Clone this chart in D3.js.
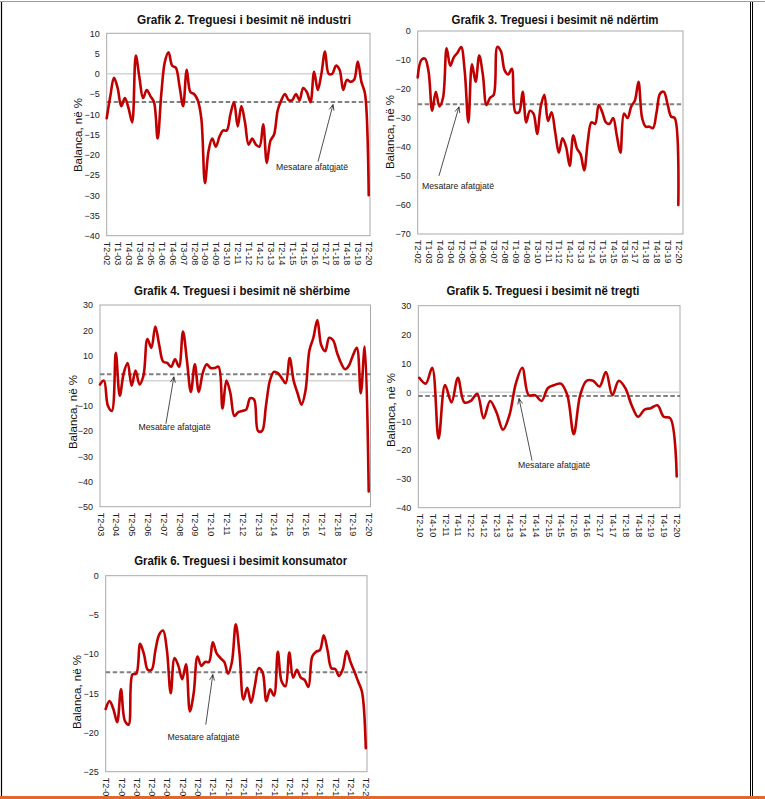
<!DOCTYPE html>
<html><head><meta charset="utf-8">
<script src="https://cdn.jsdelivr.net/npm/d3@7"></script>
<style>body{margin:0;background:#fff}svg{display:block}text{font-family:"Liberation Sans",Arial,sans-serif}</style>
</head><body><svg id="c" width="765" height="799"></svg>
<script>
// ---- categories (quarters) ----
function quarters(q, y, n){const out=[];for(let i=0;i<n;i++){out.push("T"+q+"-"+String(y).padStart(2,"0"));q++;if(q>4){q=1;y++;}}return out;}
const cats02 = quarters(2, 2, 73);   // T2-02 .. T2-20
const cats03 = quarters(2, 3, 69);   // T2-03 .. T2-20
const cats10 = quarters(2, 10, 41);  // T2-10 .. T2-20

// ---- series values (balance, %) ----
const industri = [-11,-5.5,-1,-3.5,-8,-6,-8.5,-12,4.5,-1,-6,-4,-5.5,-7,-16,-5,3,5.3,2,1.5,-3,-8,1,-4.5,-5,-6.5,-11,-27,-19,-16,-18,-15.5,-14,-14,-10,-7,-13,-8,-12,-17.5,-16,-17.5,-18,-12.5,-22,-16.5,-15,-9,-6.5,-5,-6.5,-6.5,-5,-6.5,-3.5,-4.5,-7,0.5,-4,0,5.5,0,0,2,1,-4,-1.5,-2,-1.5,3,-2,-5,-30];
const ndertim = [-16,-10,-9.5,-14,-27.5,-21,-26,-23,-6,-12,-9,-7.5,-5.5,-14,-31.5,-11.5,-17.5,-8.5,-15,-25.5,-23,-22,-5.5,-7,-13.5,-15,-13,-28,-28,-21,-31.5,-27.5,-28.5,-35.5,-26,-22,-31,-28,-35,-42,-37,-40,-46.5,-36,-40.5,-42.5,-48,-38,-31.5,-32,-25.5,-28,-31.5,-32,-30,-36,-42,-28.5,-30,-26,-24,-17.5,-30,-33,-33,-33.5,-28,-21.5,-21,-25,-29.5,-30,-60];
const sherbime = [-1.5,0,-10,-12,11,-6,3,7,-2,4,-1.5,2,16.5,13,21.5,14,7.5,7,5.5,8.5,5.5,19.5,8,-4.5,6.5,-4.5,3,6.5,5,5,5.5,-11,0,-5,-14,-12.5,-12,-11.5,-7,-7.5,-20,-20,-10,0,3.5,3,1,-1,9,0,-5,-9.5,-4,12,17,24,14,11.7,17,16,11,7,4.5,6,10,13,-5,13.5,-44];
const tregti = [5,3,8.5,-16,2.5,-3.5,5,-3.5,-3,-0.5,-9,-3,-7,-13,-8,3,8.5,-1,-1,-3,1.5,2.5,3,-1,-14.5,-1,4,4,2,7,-1,4,1.5,-4.5,-8.5,-6,-5.5,-4.5,-8.5,-9,-29.2];
const konsumator = [-17,-16,-17,-18.7,-14.5,-18.5,-19,-12.6,-12.5,-8.7,-10,-12,-12,-9.5,-7.5,-7,-9.5,-15,-10.5,-11.5,-13.2,-11.3,-17.3,-15,-10.3,-11.5,-11,-11,-8.5,-9.9,-10.5,-11,-12.5,-11,-6.2,-10,-15.8,-14.3,-16.2,-14,-11.8,-12.3,-16,-14.5,-15.3,-9.7,-13.5,-14.1,-9.8,-13,-12,-13,-13.3,-14.2,-10.3,-9.7,-9.5,-7.6,-9.5,-11.8,-11.9,-12.8,-11.9,-9.6,-11,-12.2,-13.5,-14.8,-22];

// ---- long-term averages ----
const avgIndustri = -7, avgNdertim = -25.3, avgSherbime = 2.5, avgTregti = -1.3, avgKonsumator = -12.3;

// ---- titles / texts ----
const titles = ["Grafik 2. Treguesi i besimit në industri","Grafik 3. Treguesi i besimit në ndërtim","Grafik 4. Treguesi i besimit në shërbime","Grafik 5. Treguesi i besimit në tregti","Grafik 6. Treguesi i besimit konsumator"];
const yTitle = "Balanca, në %";
const noteText = "Mesatare afatgjatë";

const panels = [
  {title:titles[0], tx:244, tw:214, ty:24, box:[106.7,370,33.3,235.7], xr:[106.7,368.7], dom:[-40,10], step:5, vals:industri, cats:cats02, every:3, avg:avgIndustri, zero:true, yt:[78,135], note:{x:312,y:170,tip:62.2,dx:-15,dy:57}},
  {title:titles[1], tx:555, tw:207, ty:24, box:[417.7,683,31,234], xr:[417.7,678.3], dom:[-70,0], step:10, vals:ndertim, cats:cats02, every:3, avg:avgNdertim, zero:false, yt:[390,132], note:{x:458,y:189,tip:11.4,dx:-20,dy:69}},
  {title:titles[2], tx:242, tw:216, ty:295, box:[100,370.5,305,506.7], xr:[100,368.7], dom:[-50,30], step:10, vals:sherbime, cats:cats03, every:4, avg:avgSherbime, zero:true, yt:[72.5,412], note:{x:174.5,y:430,tip:18.7,dx:-8,dy:47}},
  {title:titles[3], tx:543, tw:193, ty:295, box:[418.3,680,305.7,507.7], xr:[419.3,676.7], dom:[-40,30], step:10, vals:tregti, cats:cats10, every:2, avg:avgTregti, zero:true, yt:[390.5,410], note:{x:554,y:468,tip:15.5,dx:13,dy:62}},
  {title:titles[4], tx:240.7, tw:213, ty:565, box:[105.7,367,575.7,771.7], xr:[105.7,365.8], dom:[-25,0], step:5, vals:konsumator, cats:cats03, every:4, avg:avgKonsumator, zero:false, yt:[77,692], note:{x:203.5,y:740,tip:28,dx:-7,dy:50}}
];

const svg = d3.select("#c");
svg.append("rect").attr("width",765).attr("height",799).attr("fill","#fff");

const defs = svg.append("defs");
defs.append("marker").attr("id","arr").attr("viewBox","0 0 10 10").attr("refX",9).attr("refY",5)
  .attr("markerWidth",7).attr("markerHeight",7).attr("orient","auto-start-reverse").attr("markerUnits","userSpaceOnUse")
  .append("path").attr("d","M1,1.5 L9,5 L1,8.5").attr("fill","none").attr("stroke","#222").attr("stroke-width",1.1);

panels.forEach(p => {
  const [bx0,bx1,by0,by1] = p.box;
  const x = d3.scalePoint().domain(p.cats).range(p.xr);
  const xi = d3.scaleLinear().domain([0,p.cats.length-1]).range(p.xr);
  const y = d3.scaleLinear().domain(p.dom).range([by1,by0]);
  const g = svg.append("g");

  // plot border
  g.append("rect").attr("x",bx0).attr("y",by0).attr("width",bx1-bx0).attr("height",by1-by0)
    .attr("fill","none").attr("stroke","#a9a9a9").attr("stroke-width",1);
  if (p.zero) g.append("line").attr("x1",bx0).attr("x2",bx1).attr("y1",y(0)).attr("y2",y(0))
    .attr("stroke","#d4d4d4").attr("stroke-width",1.5);

  // y axis
  const ya = d3.axisLeft(y).tickValues(d3.range(p.dom[0],p.dom[1]+0.001,p.step)).tickSize(0).tickPadding(7).tickFormat(d3.format("d"));
  const yg = g.append("g").attr("transform",`translate(${bx0},0)`).call(ya);
  yg.select(".domain").remove();
  yg.selectAll("text").attr("font-size",9).attr("fill","#222").attr("font-family","Liberation Sans, Arial, sans-serif");

  // x axis
  const shown = p.cats.filter((c,i)=> i % p.every === 0);
  const xa = d3.axisBottom(x).tickValues(shown).tickSize(0).tickPadding(0);
  const xg = g.append("g").attr("transform",`translate(0,${by1})`).call(xa);
  xg.select(".domain").remove();
  xg.selectAll("text").attr("font-size",9).attr("fill","#222").attr("font-family","Liberation Sans, Arial, sans-serif")
    .attr("text-anchor","start").attr("transform","translate(0,6) rotate(90)").attr("x",0).attr("y",0).attr("dy","0.33em");

  // average dashed line
  g.append("line").attr("x1",bx0).attr("x2",bx1).attr("y1",y(p.avg)).attr("y2",y(p.avg))
    .attr("stroke","#808080").attr("stroke-width",2).attr("stroke-dasharray","4.5,2.5");

  // series line
  const line = d3.line().x((d,i)=>x(p.cats[i])).y(d=>y(d)).curve(d3.curveCatmullRom.alpha(0.5));
  g.append("path").datum(p.vals).attr("d",line).attr("fill","none").attr("stroke","#c00000")
    .attr("stroke-width",2.6).attr("stroke-linejoin","round").attr("stroke-linecap","round");

  // annotation
  const tx = xi(p.note.tip), ty = y(p.avg)+2.5;
  g.append("line").attr("x1",tx+p.note.dx).attr("y1",ty+p.note.dy).attr("x2",tx).attr("y2",ty)
    .attr("stroke","#222").attr("stroke-width",0.8).attr("marker-end","url(#arr)");
  g.append("text").attr("x",p.note.x).attr("y",p.note.y).attr("text-anchor","middle")
    .attr("font-size",8.7).attr("fill","#222").text(noteText);

  // title
  g.append("text").attr("x",p.tx).attr("y",p.ty).attr("text-anchor","middle").attr("font-weight","bold")
    .attr("font-size",12.8).attr("fill","#111").attr("textLength",p.tw).attr("lengthAdjust","spacingAndGlyphs").text(p.title);

  // y title
  g.append("text").attr("transform",`translate(${p.yt[0]},${p.yt[1]}) rotate(-90)`).attr("text-anchor","middle")
    .attr("dy","0.35em").attr("font-size",11.5).attr("fill","#111").text(yTitle);
});

// page frame
svg.append("line").attr("x1",0).attr("x2",765).attr("y1",1.5).attr("y2",1.5).attr("stroke","#9a9a9a").attr("stroke-width",1);
svg.append("line").attr("x1",1.5).attr("x2",1.5).attr("y1",2).attr("y2",796).attr("stroke","#000").attr("stroke-width",1.2);
svg.append("line").attr("x1",750.5).attr("x2",750.5).attr("y1",2).attr("y2",796).attr("stroke","#000").attr("stroke-width",1);
svg.append("line").attr("x1",752.5).attr("x2",752.5).attr("y1",2).attr("y2",796).attr("stroke","#000").attr("stroke-width",1);
svg.append("rect").attr("x",0).attr("y",796).attr("width",765).attr("height",3).attr("fill","#e2682e");
</script></body></html>
